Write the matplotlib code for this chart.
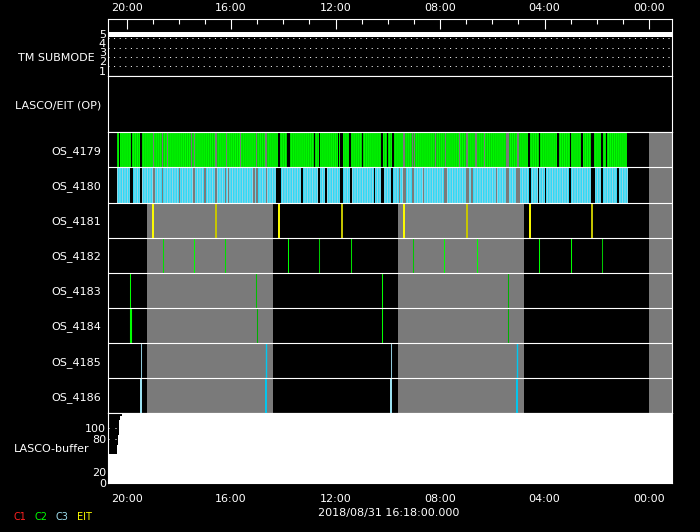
import numpy as np
import matplotlib
matplotlib.use('Agg')
import matplotlib.pyplot as plt
from matplotlib.ticker import FixedLocator, FuncFormatter

# time axis is hours of the day, running right to left
t_left, t_right = 20.71, -0.88

os_names = ['OS_4179', 'OS_4180', 'OS_4181', 'OS_4182',
            'OS_4183', 'OS_4184', 'OS_4185', 'OS_4186']

# gray (no data) periods, hours
gray_spans = [(14.4, 19.2), (4.8, 9.6), (-0.88, 0.0)]

# OS_4179 (C2) and OS_4180 (C3) coverage: start, end and gaps (lo, hi)
green_start, green_end = 20.36, 0.83
green_gaps = [(20.24, 20.28), (19.78, 19.82), (19.39, 19.47), (19.32, 19.35), (18.96, 19.00),
              (18.60, 18.64), (18.41, 18.45), (17.49, 17.54), (17.37, 17.43), (16.53, 16.63),
              (16.17, 16.21), (15.61, 15.65), (14.99, 15.03), (14.63, 14.69), (14.14, 14.21),
              (13.75, 13.84), (12.79, 12.83), (12.58, 12.63), (11.85, 11.91), (11.73, 11.81),
              (11.41, 11.47), (10.94, 10.99), (10.18, 10.26), (9.99, 10.04), (9.76, 9.84),
              (9.34, 9.40), (9.02, 9.07), (8.96, 8.99), (8.15, 8.19), (7.77, 7.80),
              (7.23, 7.29), (6.92, 7.01), (6.58, 6.65), (6.28, 6.33), (5.35, 5.47),
              (4.96, 5.05), (4.54, 4.63), (4.43, 4.46), (4.16, 4.22), (3.46, 3.52),
              (2.97, 3.03), (2.53, 2.60), (2.11, 2.21), (1.78, 1.83), (1.62, 1.66)]
cyan_start, cyan_end = 20.36, 0.79
cyan_gaps = [(19.74, 19.86), (19.39, 19.49), (18.91, 19.00), (18.59, 18.64), (17.94, 18.00),
             (17.39, 17.47), (16.95, 17.02), (16.55, 16.62), (16.18, 16.25), (16.07, 16.12),
             (15.10, 15.16), (14.96, 15.03), (14.61, 14.68), (14.10, 14.26), (13.24, 13.31),
             (12.60, 12.67), (12.33, 12.40), (11.73, 11.81), (11.37, 11.45), (10.48, 10.54),
             (10.15, 10.26), (9.80, 9.89), (9.52, 9.58), (9.31, 9.40), (8.98, 9.07),
             (8.61, 8.66), (7.74, 7.83), (6.89, 6.99), (6.74, 6.81), (5.80, 5.87),
             (5.35, 5.47), (4.93, 5.08), (4.50, 4.61), (4.20, 4.25), (3.95, 4.00),
             (2.97, 3.07), (2.07, 2.21), (1.77, 1.83), (1.14, 1.21)]

# single exposures, hours
os4181_times = [18.97, 16.58, 14.17, 11.77, 9.37, 6.97, 4.57, 2.17]
os4182_times = [18.62, 17.43, 16.24, 13.82, 12.63, 11.40, 9.02, 7.83, 6.60, 4.22, 2.99, 1.80]
os4183_times = [19.85, 15.05, 10.21, 5.41]
os4184_times = [19.82, 15.01, 10.21, 5.41]
os4185_times = [19.46, 14.66, 9.86, 5.06]
os4186_times = [19.46, 14.66, 9.86, 5.06]

# LASCO buffer fill level (step, post)
buf_times = [20.71, 20.369, 20.346, 20.307, 20.280, 20.242, 20.192, -0.88]
buf_level = [51.7, 68.4, 86.4, 98.5, 113.4, 120.6, 130, 130]

tm_level = 5
major_hours = [20, 16, 12, 8, 4, 0]
minor_hours = list(range(0, 21))


def segments(start, end, gaps):
    out = []
    prev = start
    for lo, hi in sorted(gaps, key=lambda g: -g[1]):
        out.append((hi, prev - hi))
        prev = lo
    out.append((end, prev - end))
    return out


W, H = 700, 532
plt.rcParams['font.family'] = 'DejaVu Sans'
plt.rcParams['font.size'] = 8
plt.rcParams['hatch.linewidth'] = 0.7
fig = plt.figure(figsize=(W / 100, H / 100), dpi=100, facecolor='black')


def panel(top, bottom):
    ax = fig.add_axes([108 / W, 1 - bottom / H, (672 - 108) / W, (bottom - top) / H])
    ax.set_facecolor('black')
    for s in ax.spines.values():
        s.set_color('white')
        s.set_linewidth(0.8)
    ax.set_xlim(t_left, t_right)
    ax.xaxis.set_major_locator(FixedLocator(major_hours))
    ax.xaxis.set_minor_locator(FixedLocator(minor_hours))
    ax.tick_params(axis='x', which='both', bottom=False, top=False,
                   labelbottom=False, labeltop=False)
    return ax


hour_fmt = FuncFormatter(lambda v, p: '%02d:00' % int(round(v)))

# TM SUBMODE
ax_tm = panel(19, 76.3)
ax_tm.set_ylim(0.38, 6.59)
for lvl in [1.5, 2.5, 3.5, 4.5]:
    ax_tm.axhline(lvl, color='white', lw=0.72, ls=(0, (1, 4.6)))
ax_tm.axhline(tm_level, color='white', lw=3.6)
ax_tm.set_yticks([1, 2, 3, 4, 5])
ax_tm.tick_params(axis='y', length=0, pad=1.5, colors='white')
ax_tm.xaxis.set_major_formatter(hour_fmt)
ax_tm.tick_params(axis='x', which='both', top=True, labeltop=True, direction='in',
                  colors='white', pad=4)
ax_tm.tick_params(axis='x', which='major', length=7.5, width=0.8)
ax_tm.tick_params(axis='x', which='minor', length=3.8, width=0.8)

# LASCO/EIT (OP)
ax_op = panel(76.3, 132.3)
ax_op.set_yticks([])

# OS rows
ax_os = panel(132.3, 413.3)
ax_os.set_ylim(8, 0)
for lo, hi in gray_spans:
    ax_os.axvspan(lo, hi, color='#7a7a7a', lw=0, zorder=0)
ax_os.broken_barh(segments(green_start, green_end, green_gaps), (0, 1),
                  facecolor='#00ff00', edgecolor='#00d000', hatch='|' * 8, lw=0, zorder=2)
ax_os.broken_barh(segments(cyan_start, cyan_end, cyan_gaps), (1, 1),
                  facecolor='#00dcff', edgecolor='#98d4e4', hatch='|' * 10, lw=0, zorder=2)

c4181 = ['#ffff00', '#c8c800'] * 4
ax_os.vlines(os4181_times, 2, 3, colors=c4181, lw=1.4, zorder=3)
c4182 = ['#00e000', '#00ff00', '#00e000', '#00ff00', '#00c800', '#00e000',
         '#00c800', '#00ff00', '#00ff00', '#00ff00', '#00ff00', '#00c800']
ax_os.vlines(os4182_times, 3, 4, colors=c4182, lw=0.75, zorder=3)
ax_os.vlines(os4183_times, 4, 5, colors=['#00ff00', '#00c000', '#00ff00', '#00b000'],
             lw=0.75, zorder=3)
ax_os.vlines(os4184_times, 5, 6, colors=['#00ff00', '#00b000', '#00ff00', '#00b000'],
             lw=[1.5, 0.75, 0.75, 0.75], zorder=3)
ax_os.vlines(os4185_times, 6, 7, colors=['#90c8d8', '#00c8f0', '#90c8d8', '#00c8f0'],
             lw=[0.75, 1.0, 0.75, 1.0], zorder=3)
ax_os.vlines(os4186_times, 7, 8, colors=['#a0e8f8', '#00c8f0', '#a0e8f8', '#00c8f0'],
             lw=1.4, zorder=3)
for k in range(1, 8):
    ax_os.axhline(k, color='white', lw=0.8, zorder=5)
ax_os.set_yticks(np.arange(8) + 0.5)
ax_os.set_yticklabels(os_names)
ax_os.tick_params(axis='y', length=0, pad=5, colors='white')

# LASCO buffer
ax_buf = panel(413.3, 483)
ax_buf.set_ylim(0, 126)
for lvl in [100, 80]:
    ax_buf.axhline(lvl, color='white', lw=0.72, ls=(0, (1, 6)), zorder=1)
ax_buf.fill_between(buf_times, 0, buf_level, step='post', color='white', lw=0, zorder=2)
ax_buf.set_yticks([0, 20, 80, 100])
ax_buf.tick_params(axis='y', length=0, pad=1.5, colors='white')
ax_buf.xaxis.set_major_formatter(hour_fmt)
ax_buf.tick_params(axis='x', which='major', labelbottom=True, length=0, pad=8,
                   colors='white')

# side labels
fig.text(95 / W, 1 - 58.3 / H, 'TM SUBMODE', color='white', ha='right', va='center')
fig.text(101 / W, 1 - 105 / H, 'LASCO/EIT (OP)', color='white', ha='right', va='center')
fig.text(90 / W, 1 - 449.3 / H, 'LASCO-buffer', color='white', ha='right', va='center')
fig.text(389 / W, 1 - 513.3 / H, '2018/08/31 16:18:00.000', color='white',
         ha='center', va='center')

legend_names = ['C1', 'C2', 'C3', 'EIT']
legend_colors = ['#ff2020', '#00ff00', '#a0e0f0', '#ffff00']
for x, name, col in zip([13, 34.3, 55.7, 76.7], legend_names, legend_colors):
    fig.text(x / W, 1 - 516.7 / H, name, color=col, ha='left', va='center', fontsize=7)

fig.savefig('out.png', dpi=100, facecolor='black')
